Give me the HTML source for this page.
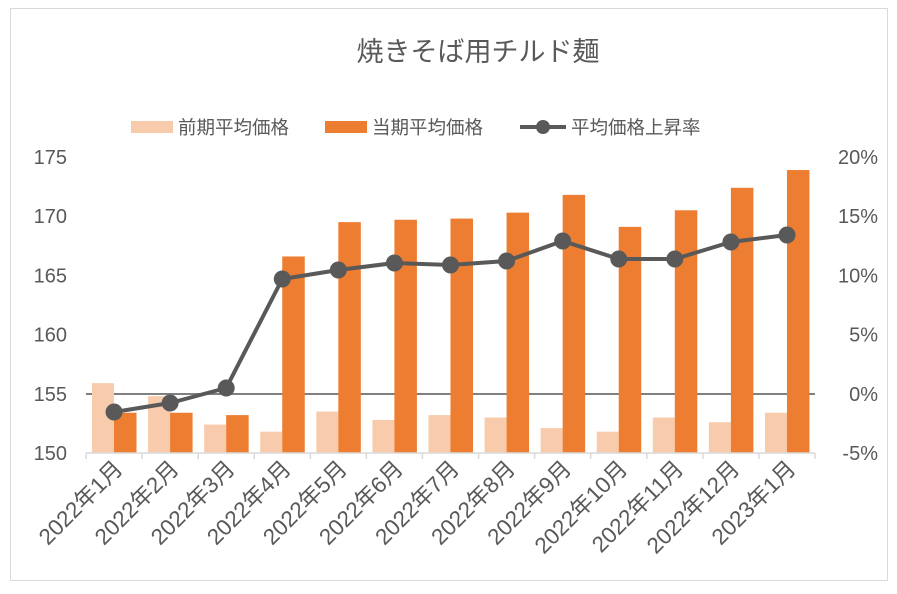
<!DOCTYPE html>
<html><head><meta charset="utf-8"><style>
body{margin:0;background:#fff}
svg{display:block}
text{font-family:"Liberation Sans","Noto Sans CJK JP",sans-serif;fill:#595959}
</style></head><body>
<svg id="s" width="897" height="594" xmlns="http://www.w3.org/2000/svg">
<rect x="0" y="0" width="897" height="594" fill="#fff"/>
<rect x="10.5" y="8.5" width="877" height="572" fill="none" stroke="#d9d9d9"/>
<text x="478" y="61" font-size="27" text-anchor="middle" fill="#595959">焼きそば用チルド麺</text>
<rect x="131" y="121" width="42" height="12" fill="#f8cbad"/>
<text x="178" y="134" font-size="18.5">前期平均価格</text>
<rect x="325" y="121" width="42" height="12" fill="#ed7d31"/>
<text x="372" y="134" font-size="18.5">当期平均価格</text>
<line x1="520" y1="127" x2="566" y2="127" stroke="#595959" stroke-width="4"/>
<circle cx="543" cy="127" r="7" fill="#595959"/>
<text x="571" y="134" font-size="18.5">平均価格上昇率</text>
<g id="g"></g>
</svg>
<script>
var g=document.getElementById('g'),h='';
var L=[155.9,154.8,152.4,151.8,153.5,152.8,153.2,153.0,152.1,151.8,153.0,152.6,153.4];
var D=[153.4,153.4,153.2,166.6,169.5,169.7,169.8,170.3,171.8,169.1,170.5,172.4,173.9];
var P=[412,403,388,279,270,263,265,261,241,259,259,242,235];
var lab=['2022年1月','2022年2月','2022年3月','2022年4月','2022年5月','2022年6月','2022年7月','2022年8月','2022年9月','2022年10月','2022年11月','2022年12月','2023年1月'];
function y(v){return 453-(v-150)*11.84;}
h+='<line x1="86" y1="394" x2="815" y2="394" stroke="#808080" stroke-width="2"/>';
var w=56.08;
for(var i=0;i<13;i++){var l=86+w*i;
h+='<rect x="'+(l+6)+'" y="'+y(L[i])+'" width="22" height="'+(453-y(L[i]))+'" fill="#f8cbad"/>';
h+='<rect x="'+(l+28)+'" y="'+y(D[i])+'" width="22.5" height="'+(453-y(D[i]))+'" fill="#ed7d31"/>';
var cx=l+w/2;
h+='<text font-size="22.5" text-anchor="end" transform="translate('+(cx+10)+',470) rotate(-45)">'+lab[i]+'</text>';
}
h+='<line x1="86" y1="453" x2="815" y2="453" stroke="#d9d9d9" stroke-width="1.5"/>';
for(var i=0;i<=13;i++){var x=86+w*i;h+='<line x1="'+x+'" y1="453" x2="'+x+'" y2="459" stroke="#d9d9d9" stroke-width="1.5"/>';}
var pts=P.map(function(p,i){return (86+w*(i+0.5))+','+p}).join(' ');
h+='<polyline points="'+pts+'" fill="none" stroke="#595959" stroke-width="4" stroke-linejoin="round"/>';
P.forEach(function(p,i){h+='<circle cx="'+(86+w*(i+0.5))+'" cy="'+p+'" r="8.5" fill="#595959"/>';});
for(var k=0;k<6;k++){var yy=453-k*59.2;
h+='<text x="67" y="'+(yy+7)+'" font-size="20" text-anchor="end">'+(150+5*k)+'</text>';
h+='<text x="878" y="'+(yy+7)+'" font-size="20" text-anchor="end">'+(-5+5*k)+'%</text>';}
g.innerHTML=h;
</script>
</body></html>
